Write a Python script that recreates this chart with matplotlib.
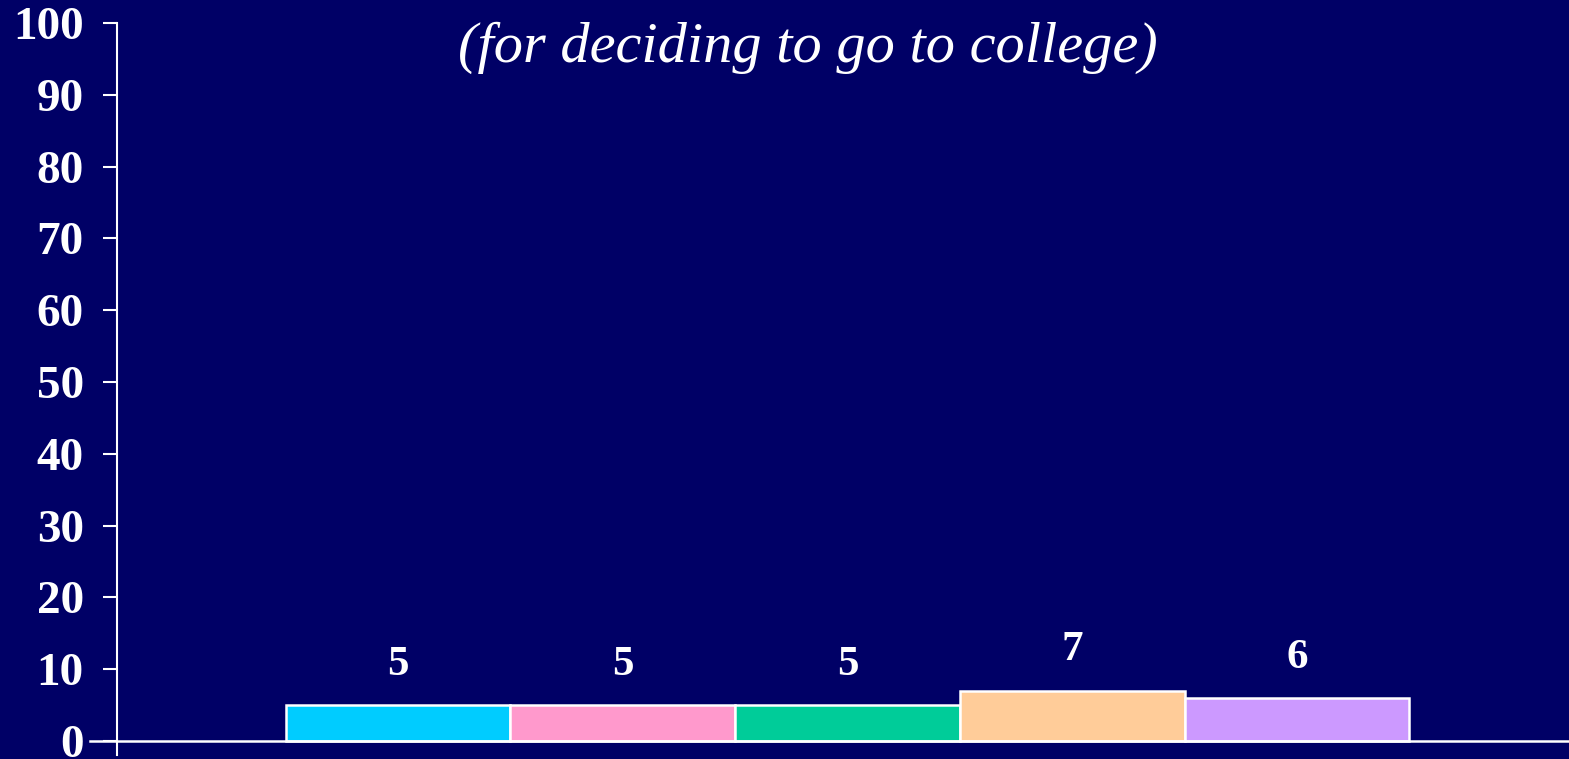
import matplotlib.pyplot as plt
import numpy as np

# chart data
groups = ["Group 1", "Group 2", "Group 3", "Group 4", "Group 5"]
values = [5, 5, 5, 7, 6]
colors = ["#00CCFF", "#FF99CC", "#00CC99", "#FFCC99", "#CC99FF"]
yticks = [0, 10, 20, 30, 40, 50, 60, 70, 80, 90, 100]
subtitle = "(for deciding to go to college)"

bg = "#000066"
W, H = 1569, 759

fig = plt.figure(figsize=(W / 100, H / 100), dpi=100, facecolor=bg)
ax = fig.add_axes([117 / W, 4 / H, 1 - 117 / W, (755 - 23) / H])
ax.set_facecolor(bg)

x = np.arange(len(groups))
ax.bar(x, values, width=1.0, color=colors, edgecolor="white", linewidth=1.8, zorder=3)

for xi, v in zip(x, values):
    ax.annotate(str(v), (xi, v), xytext=(0, 29), textcoords="offset points",
                ha="center", va="center", color="white", fontsize=31,
                fontweight="bold", family="Liberation Serif")

ax.set_xlim(-1.25, 5.21)
ax.set_ylim(-1.95, 100)
ax.set_xticks([])
ax.set_yticks(yticks)
ax.set_yticklabels([str(t) for t in yticks], color="white", fontsize=34,
                   fontweight="bold", family="Liberation Serif")
ax.tick_params(axis="y", direction="out", length=10, width=1.5, color="white", pad=14)

for s in ["top", "right", "bottom"]:
    ax.spines[s].set_visible(False)
ax.spines["left"].set_color("white")
ax.spines["left"].set_linewidth(1.5)

ax.axhline(0, xmin=-(117 - 90) / (W - 117), xmax=1, color="white", lw=1.8,
           clip_on=False, zorder=4)

fig.text(808 / W, 1 - 48 / H, subtitle, ha="center", va="center", color="white",
         fontsize=42, style="italic", family="Liberation Serif")

fig.savefig("out.png", dpi=100, facecolor=bg)
